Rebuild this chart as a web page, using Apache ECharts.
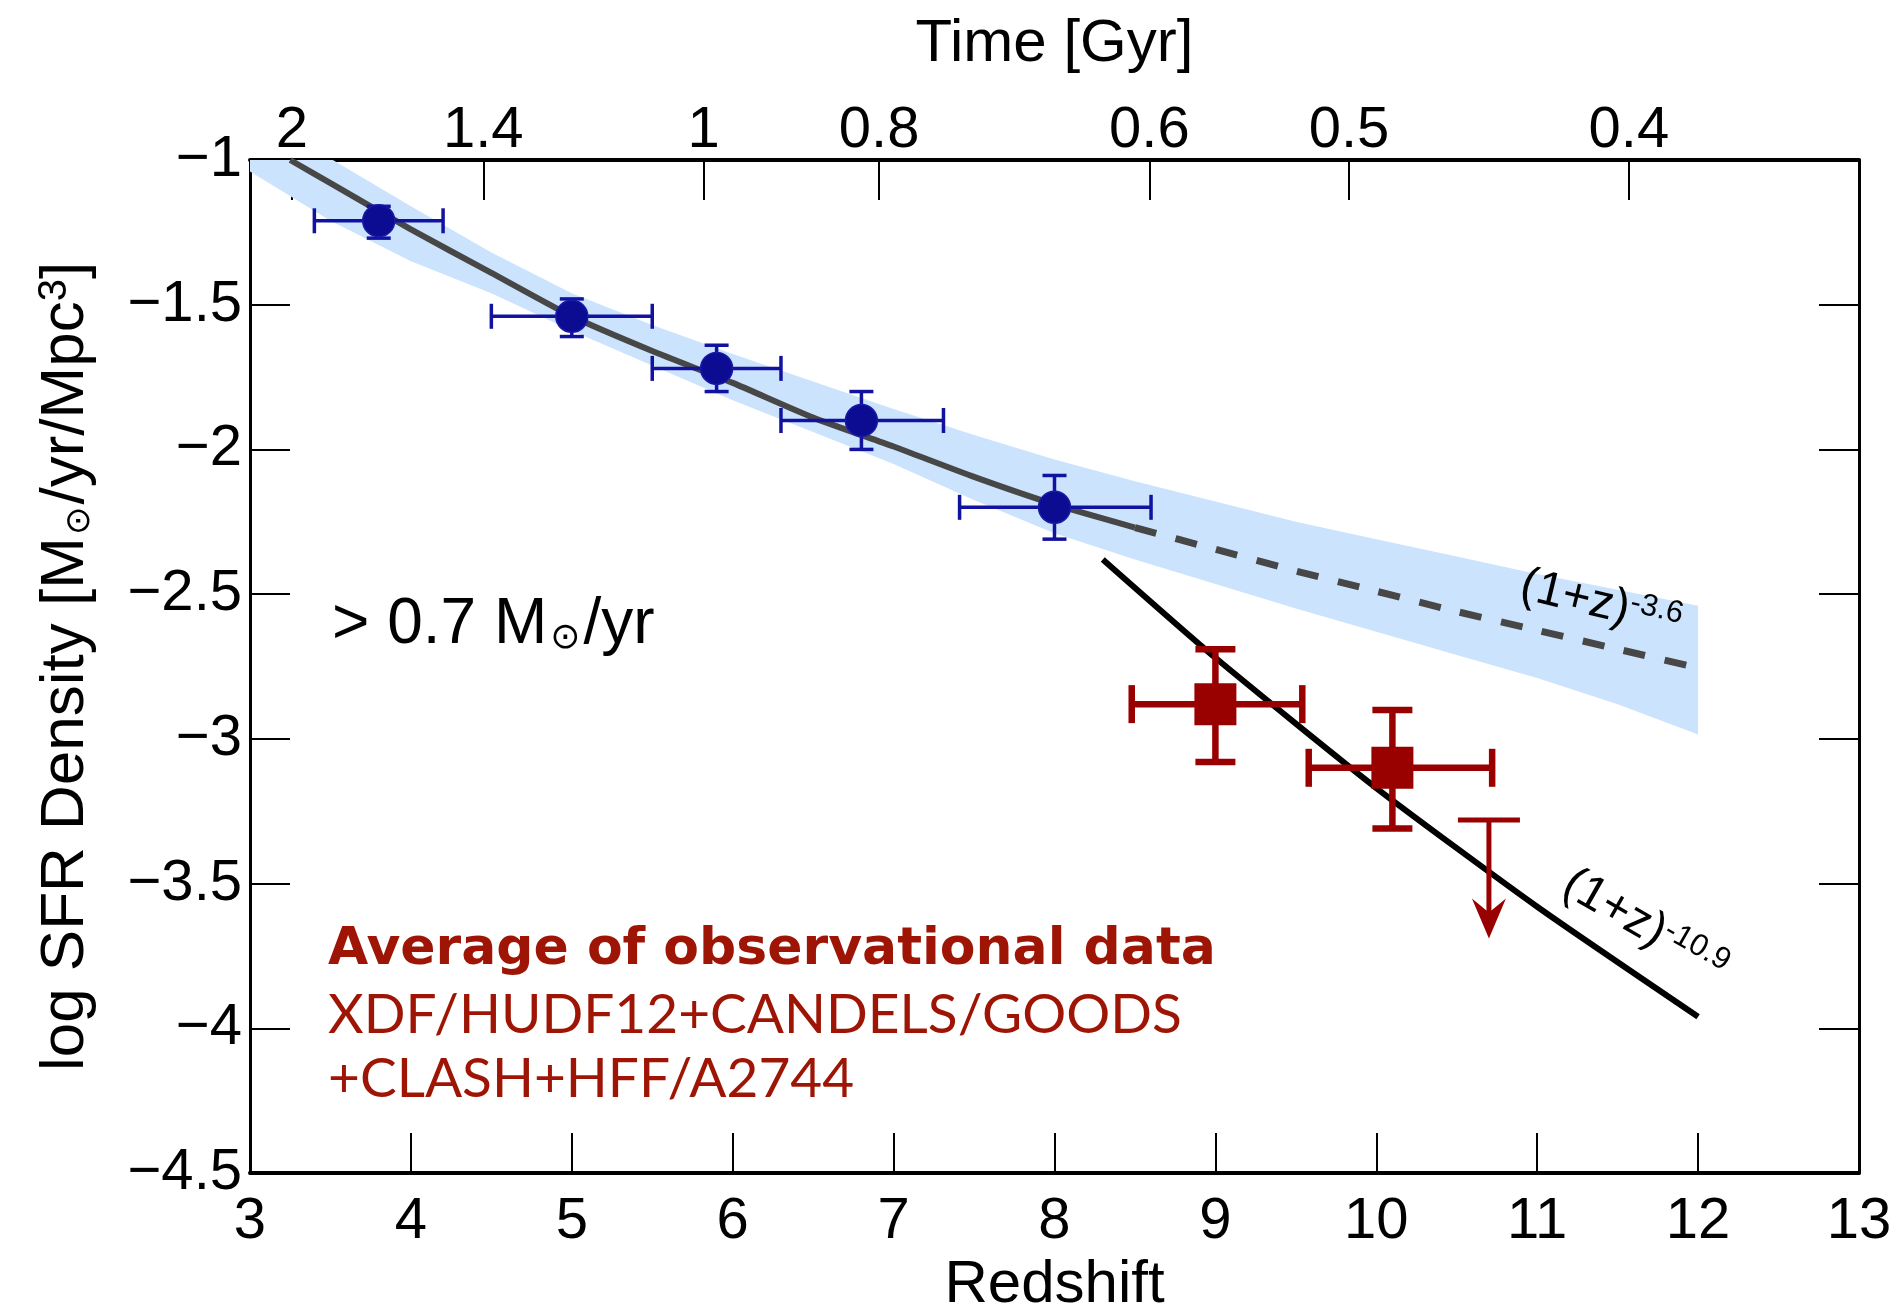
<!DOCTYPE html>
<html>
<head>
<meta charset="utf-8">
<script src="https://cdn.jsdelivr.net/npm/echarts@6/dist/echarts.min.js"></script>
<style>
html, body { margin: 0; padding: 0; background: #fff; }
#sfr { width: 1903px; height: 1310px; }
</style>
</head>
<body>
<div id="sfr"></div>
<script>
// blue points: average at z~4-8
var blueZ = [3.8, 5.0, 5.9, 6.8, 8.0];
var blueY = [-1.21, -1.54, -1.72, -1.90, -2.20];
var blueZLo = [3.4, 4.5, 5.5, 6.3, 7.41];
var blueZHi = [4.2, 5.5, 6.3, 7.31, 8.6];
var blueYLo = [-1.27, -1.61, -1.80, -2.00, -2.31];
var blueYHi = [-1.16, -1.48, -1.64, -1.80, -2.09];

// red squares + upper limit
var redZ = [9.0, 10.1];
var redY = [-2.88, -3.10];
var redZLo = [8.48, 9.58];
var redZHi = [9.54, 10.72];
var redYLo = [-3.08, -3.31];
var redYHi = [-2.69, -2.90];
var limZ = [10.7];
var limTop = [-3.28];
var limTip = [-3.69];

// (1+z)^-3.6 fit, solid then dashed
var fitZ = [3.25, 3.5, 4, 4.5, 5, 5.5, 6, 6.5, 7, 7.5, 8, 8.5];
var fitY = [-1.00, -1.08, -1.24, -1.39, -1.54, -1.66, -1.77, -1.89, -1.99, -2.095, -2.19, -2.27];
var dashZ = [8.5, 9, 9.5, 10, 10.5, 11, 11.5, 12];
var dashY = [-2.27, -2.345, -2.42, -2.49, -2.56, -2.625, -2.69, -2.755];

// (1+z)^-10.9 line
var steepZ = [8.3, 9, 10, 11, 12];
var steepY = [-2.38, -2.72, -3.17, -3.58, -3.96];

// blue band
var bandZ = [3, 3.5, 4, 4.5, 5, 5.5, 6, 6.5, 7, 7.5, 8, 8.5, 9, 9.5, 10, 10.5, 11, 11.5, 12];
var bandHi = [-0.84, -0.995, -1.16, -1.32, -1.46, -1.57, -1.67, -1.765, -1.86, -1.95, -2.035, -2.11, -2.18, -2.25, -2.31, -2.37, -2.43, -2.485, -2.54];
var bandLo = [-1.04, -1.21, -1.35, -1.46, -1.59, -1.71, -1.83, -1.94, -2.05, -2.175, -2.29, -2.38, -2.465, -2.55, -2.63, -2.71, -2.79, -2.88, -2.985];

// top axis: cosmic time
var timeTickZ = [3.26, 4.45, 5.82, 6.91, 8.59, 9.83, 11.57];
var timeLabels = ['2', '1.4', '1', '0.8', '0.6', '0.5', '0.4'];

var FONT = 'Liberation Sans';
var RED = '#990000';
var TEXTRED = '#9e1405';
var BLUE = '#1212a0';

function pairs(xs, ys) {
	return xs.map(function(x, i) { return [x, ys[i]]; });
}

function errorBars(capX, capY, width, color) {
	return function(params, api) {
		var y = api.value(1);
		var c = api.coord([api.value(0), y]);
		var l = api.coord([api.value(2), y]);
		var r = api.coord([api.value(3), y]);
		var b = api.coord([api.value(0), api.value(4)]);
		var t = api.coord([api.value(0), api.value(5)]);
		function seg(x1, y1, x2, y2) {
			return {
				type: 'line',
				shape: { x1: x1, y1: y1, x2: x2, y2: y2 },
				style: { stroke: color, lineWidth: width, fill: null }
			};
		}
		return {
			type: 'group',
			children: [
				seg(l[0], c[1], r[0], c[1]),
				seg(l[0], c[1] - capY, l[0], c[1] + capY),
				seg(r[0], c[1] - capY, r[0], c[1] + capY),
				seg(c[0], b[1], c[0], t[1]),
				seg(c[0] - capX, b[1], c[0] + capX, b[1]),
				seg(c[0] - capX, t[1], c[0] + capX, t[1])
			]
		};
	};
}

var myChart = echarts.init(document.getElementById('sfr'));

var option = {
	animation: false,
	grid: {
		left: 250,
		right: 44,
		top: 160,
		bottom: 137,
		outerBoundsMode: 'none'
	},
	xAxis: [{
		type: 'value',
		position: 'bottom',
		min: 3,
		max: 13,
		interval: 1,
		name: 'Redshift',
		nameLocation: 'middle',
		nameGap: 78,
		nameTextStyle: { fontSize: 60, fontFamily: FONT, color: '#000' },
		axisLine: { show: true, onZero: false, lineStyle: { color: '#000', width: 4 } },
		axisTick: { show: true, inside: true, length: 40, lineStyle: { color: '#000', width: 2 } },
		axisLabel: { margin: 20, fontSize: 58, fontFamily: FONT, color: '#000' },
		splitLine: { show: false }
	}, {
		type: 'value',
		position: 'top',
		min: 3,
		max: 13,
		name: 'Time [Gyr]',
		nameLocation: 'middle',
		nameGap: 86,
		nameTextStyle: { fontSize: 60, fontFamily: FONT, color: '#000' },
		axisLine: { show: true, onZero: false, lineStyle: { color: '#000', width: 4 } },
		axisTick: { show: true, inside: true, length: 40, customValues: timeTickZ, lineStyle: { color: '#000', width: 2 } },
		axisLabel: {
			margin: 0,
			fontSize: 58,
			fontFamily: FONT,
			color: '#000',
			customValues: timeTickZ,
			formatter: function(v) {
				var i = timeTickZ.indexOf(v);
				return i < 0 ? '' : timeLabels[i];
			}
		},
		splitLine: { show: false }
	}],
	yAxis: [{
		type: 'value',
		position: 'left',
		min: -4.5,
		max: -1,
		interval: 0.5,
		name: '{a|log SFR Density [M}{s|⊙}{a|/yr/Mpc}{p|3}{a|]}',
		nameLocation: 'middle',
		nameRotate: 90,
		nameGap: 153,
		nameTextStyle: {
			rich: {
				a: { fontSize: 62, fontFamily: FONT, color: '#000' },
				s: { fontSize: 34, fontFamily: 'DejaVu Sans', color: '#000', verticalAlign: 'bottom', padding: [0, 2, 0, 2] },
				p: { fontSize: 40, fontFamily: FONT, color: '#000', verticalAlign: 'top' }
			}
		},
		axisLine: { show: true, onZero: false, lineStyle: { color: '#000', width: 3 } },
		axisTick: { show: true, inside: true, length: 40, lineStyle: { color: '#000', width: 2 } },
		axisLabel: {
			margin: 8,
			fontSize: 58,
			fontFamily: FONT,
			color: '#000',
			formatter: function(v) { return String(v).replace('-', '\u2212'); }
		},
		splitLine: { show: false }
	}, {
		type: 'value',
		position: 'right',
		min: -4.5,
		max: -1,
		interval: 0.5,
		axisLine: { show: true, onZero: false, lineStyle: { color: '#000', width: 3 } },
		axisTick: { show: true, inside: true, length: 40, lineStyle: { color: '#000', width: 2 } },
		axisLabel: { show: false },
		splitLine: { show: false }
	}],
	graphic: [{
		type: 'text',
		z: 100,
		x: 332,
		y: 625,
		style: {
			text: '{a|> 0.7 M}{s|⊙}{a|/yr}',
			verticalAlign: 'middle',
			rich: {
				a: { fontSize: 64, fontFamily: FONT, fill: '#000' },
				s: { fontSize: 36, fontFamily: 'DejaVu Sans', fill: '#000', verticalAlign: 'bottom', padding: [0, 3, 0, 3] }
			}
		}
	}, {
		type: 'text',
		z: 100,
		x: 328,
		y: 950,
		style: { text: 'Average of observational data', font: 'bold 52px "DejaVu Sans"', fill: TEXTRED, verticalAlign: 'middle' }
	}, {
		type: 'text',
		z: 100,
		x: 328,
		y: 1015,
		style: { text: 'XDF/HUDF12+CANDELS/GOODS', font: '55px Lato', fill: TEXTRED, verticalAlign: 'middle' }
	}, {
		type: 'text',
		z: 100,
		x: 328,
		y: 1079,
		style: { text: '+CLASH+HFF/A2744', font: '55px Lato', fill: TEXTRED, verticalAlign: 'middle' }
	}, {
		type: 'text',
		z: 100,
		x: 1601,
		y: 604,
		rotation: -0.236,
		style: {
			text: '{a|(1+z)}{b|-3.6}',
			align: 'center',
			verticalAlign: 'middle',
			rich: {
				a: { fontSize: 48, fontFamily: FONT, fill: '#000' },
				b: { fontSize: 31, fontFamily: FONT, fill: '#000', verticalAlign: 'top' }
			}
		}
	}, {
		type: 'text',
		z: 100,
		x: 1645,
		y: 926,
		rotation: -0.52,
		style: {
			text: '{a|(1+z)}{b|-10.9}',
			align: 'center',
			verticalAlign: 'middle',
			rich: {
				a: { fontSize: 48, fontFamily: FONT, fill: '#000' },
				b: { fontSize: 31, fontFamily: FONT, fill: '#000', verticalAlign: 'top' }
			}
		}
	}],
	series: [{
		// uncertainty band of the fit
		name: 'band',
		type: 'custom',
		clip: true,
		z: 1,
		data: bandZ.map(function(z, i) { return [z, bandLo[i], bandHi[i]]; }),
		renderItem: function(params, api) {
			if (params.dataIndex !== 0) return null;
			var pts = [];
			for (var i = 0; i < bandZ.length; i++) pts.push(api.coord([bandZ[i], bandHi[i]]));
			for (var j = bandZ.length - 1; j >= 0; j--) pts.push(api.coord([bandZ[j], bandLo[j]]));
			return {
				type: 'polygon',
				shape: { points: pts },
				style: { fill: '#cbe3fd', stroke: null }
			};
		}
	}, {
		name: 'fit',
		type: 'line',
		z: 3,
		data: pairs(fitZ, fitY),
		showSymbol: false,
		smooth: 0.2,
		lineStyle: { color: '#474747', width: 6 }
	}, {
		name: 'fit extrapolated',
		type: 'line',
		z: 3,
		data: pairs(dashZ, dashY),
		showSymbol: false,
		smooth: 0.2,
		lineStyle: { color: '#474747', width: 7, type: [22, 20] }
	}, {
		name: 'steep',
		type: 'line',
		z: 3,
		data: pairs(steepZ, steepY),
		showSymbol: false,
		smooth: 0.2,
		lineStyle: { color: '#000', width: 6 }
	}, {
		name: 'blue errors',
		type: 'custom',
		z: 4,
		data: blueZ.map(function(z, i) { return [z, blueY[i], blueZLo[i], blueZHi[i], blueYLo[i], blueYHi[i]]; }),
		renderItem: errorBars(12, 12.5, 3.5, BLUE)
	}, {
		name: 'blue points',
		type: 'scatter',
		z: 5,
		symbol: 'circle',
		symbolSize: 32,
		data: pairs(blueZ, blueY),
		itemStyle: { color: '#0c0c92', borderColor: '#1a1aa8', borderWidth: 1.5, opacity: 1 }
	}, {
		name: 'red errors',
		type: 'custom',
		z: 4,
		data: redZ.map(function(z, i) { return [z, redY[i], redZLo[i], redZHi[i], redYLo[i], redYHi[i]]; }),
		renderItem: errorBars(20, 19, 6.5, RED)
	}, {
		name: 'red points',
		type: 'scatter',
		z: 5,
		symbol: 'rect',
		symbolSize: 42,
		data: pairs(redZ, redY),
		itemStyle: { color: RED, opacity: 1 }
	}, {
		name: 'upper limit',
		type: 'custom',
		z: 4,
		data: limZ.map(function(z, i) { return [z, limTop[i], limTip[i]]; }),
		renderItem: function(params, api) {
			var top = api.coord([api.value(0), api.value(1)]);
			var tip = api.coord([api.value(0), api.value(2)]);
			var x = top[0];
			return {
				type: 'group',
				children: [{
					type: 'line',
					shape: { x1: x - 31, y1: top[1], x2: x + 31, y2: top[1] },
					style: { stroke: RED, lineWidth: 5 }
				}, {
					type: 'line',
					shape: { x1: x, y1: top[1], x2: x, y2: tip[1] - 20 },
					style: { stroke: RED, lineWidth: 5 }
				}, {
					type: 'polygon',
					shape: { points: [[x, tip[1]], [x - 17, tip[1] - 40], [x, tip[1] - 26], [x + 17, tip[1] - 40]] },
					style: { fill: RED, stroke: null }
				}]
			};
		}
	}]
};

myChart.setOption(option);
</script>
</body>
</html>
